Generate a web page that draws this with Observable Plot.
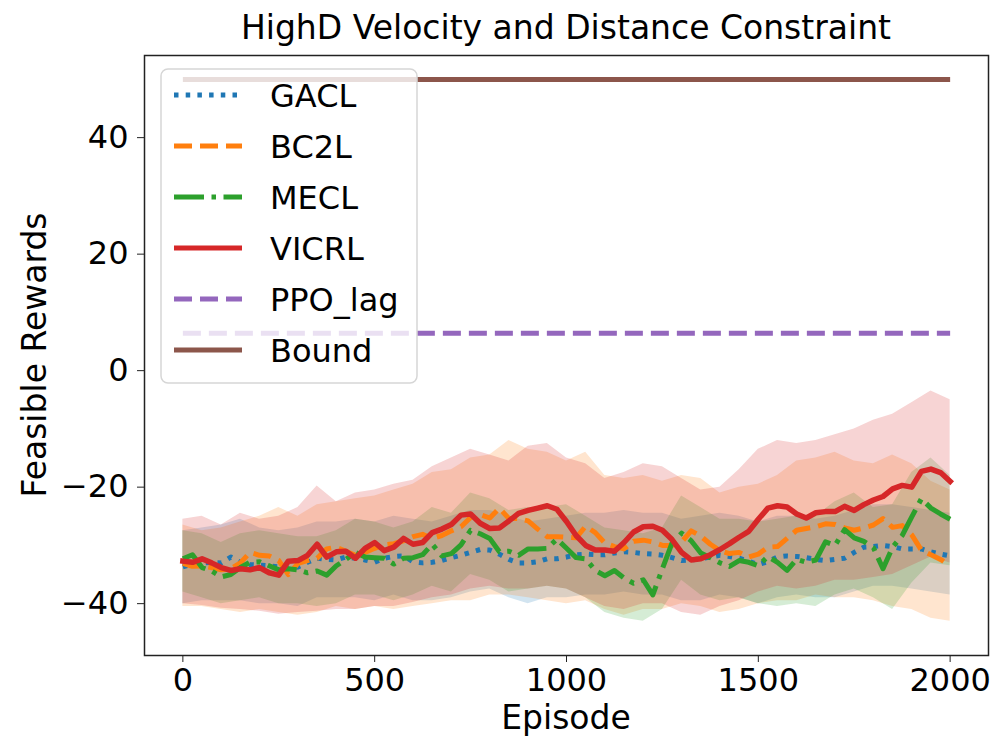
<!DOCTYPE html>
<html>
<head>
<meta charset="utf-8">
<script src="https://cdn.jsdelivr.net/npm/d3@7"></script>
<script src="https://cdn.jsdelivr.net/npm/@observablehq/plot@0.6"></script>
<style>
  html, body { margin: 0; padding: 0; background: #fff; }
  #chart { width: 994px; height: 740px; }
</style>
</head>
<body>
<div id="chart"></div>
<script>
// ---------- data ----------
const episodes = d3.range(0, 2001, 25);      // mean-curve sample episodes
const bandEpisodes = d3.range(0, 2001, 50);  // band sample episodes

const gaclMean = [-33.7,-33.2,-33.0,-32.9,-33.0,-32.0,-32.9,-33.3,-33.4,-33.5,-33.7,-33.9,-33.7,-32.9,-32.2,-32.4,-32.5,-32.0,-32.2,-32.5,-32.9,-32.2,-31.9,-31.8,-32.8,-33.0,-32.9,-32.6,-32.1,-31.7,-31.2,-30.7,-30.8,-31.5,-32.4,-33.0,-33.0,-32.8,-32.3,-32.3,-32.0,-31.6,-31.5,-31.6,-31.6,-31.3,-31.1,-31.2,-31.4,-31.5,-31.7,-32.1,-32.6,-32.5,-32.3,-32.0,-31.7,-31.9,-32.2,-32.7,-33.3,-32.8,-32.0,-31.8,-31.9,-32.1,-32.4,-32.6,-32.4,-32.2,-31.2,-30.3,-30.2,-30.0,-30.2,-30.6,-30.6,-30.6,-31.1,-31.5,-31.8];
const bc2lMean = [-33.1,-33.6,-33.5,-33.8,-34.2,-34.0,-33.0,-31.2,-31.7,-31.8,-32.6,-35.0,-33.1,-32.6,-32.2,-30.6,-30.3,-31.0,-31.7,-31.2,-30.5,-29.9,-29.7,-29.2,-28.5,-28.1,-28.8,-28.3,-27.5,-26.8,-25.2,-24.7,-25.3,-23.6,-25.4,-25.4,-25.8,-27.2,-28.5,-28.5,-28.6,-28.7,-26.7,-27.8,-29.6,-30.2,-30.6,-29.3,-29.1,-29.4,-30.0,-30.0,-29.4,-27.5,-28.4,-29.8,-30.9,-31.4,-31.2,-32.0,-31.5,-30.3,-30.2,-28.8,-27.4,-27.1,-26.8,-26.3,-26.4,-27.0,-27.4,-27.0,-26.5,-25.4,-26.9,-26.6,-28.2,-30.8,-31.6,-32.4,-33.5];
const meclMean = [-32.3,-31.6,-33.8,-34.4,-35.4,-35.0,-33.8,-32.9,-32.8,-33.5,-34.2,-34.0,-34.2,-34.7,-34.4,-35.1,-33.5,-32.4,-31.2,-32.0,-32.1,-32.2,-33.2,-32.2,-32.1,-31.6,-29.8,-31.8,-31.4,-29.9,-27.4,-28.0,-28.8,-31.1,-31.0,-31.7,-30.6,-30.6,-30.5,-28.9,-30.5,-32.1,-32.3,-34.3,-35.2,-34.3,-35.6,-36.5,-35.9,-38.5,-34.0,-29.6,-27.9,-29.2,-31.3,-32.1,-33.0,-33.6,-32.6,-32.9,-33.5,-31.9,-32.9,-34.3,-32.4,-32.9,-32.5,-29.4,-30.0,-27.3,-28.7,-29.3,-30.4,-34.0,-30.3,-28.3,-25.1,-22.0,-23.6,-24.6,-25.5];
const vicrlMean = [-32.7,-32.9,-32.3,-33.0,-33.8,-34.3,-34.0,-34.2,-33.8,-34.7,-35.1,-32.7,-32.6,-31.7,-29.8,-32.0,-31.1,-31.0,-32.2,-30.5,-29.5,-30.9,-30.3,-28.8,-29.8,-29.5,-27.8,-27.2,-26.4,-24.8,-24.6,-26.2,-27.1,-27.0,-25.8,-24.5,-24.0,-23.6,-23.2,-23.8,-25.9,-28.3,-30.0,-30.8,-30.8,-31.0,-29.5,-27.7,-26.8,-26.7,-27.4,-29.0,-31.2,-32.5,-32.3,-31.6,-30.7,-29.7,-28.6,-27.6,-25.5,-23.6,-23.2,-23.4,-24.6,-25.3,-24.4,-24.2,-24.2,-23.3,-24.0,-23.0,-22.2,-21.6,-20.3,-19.7,-20.0,-17.3,-16.9,-17.5,-19.0];

const gaclUpper = [-27.5,-27.0,-26.5,-25.5,-27.0,-27.5,-27.0,-26.0,-26.0,-25.5,-26.0,-25.0,-25.5,-26.0,-25.0,-24.0,-24.0,-25.0,-26.0,-25.5,-25.0,-24.5,-24.5,-24.0,-24.5,-24.5,-25.5,-25.0,-24.5,-25.0,-26.0,-25.0,-25.0,-25.5,-25.0,-24.0,-23.0,-23.0,-23.5,-24.0,-24.5];
const gaclLower = [-40.0,-39.5,-39.5,-39.5,-40.0,-40.0,-40.5,-39.0,-39.0,-39.0,-39.5,-38.5,-39.5,-39.5,-39.0,-38.0,-37.5,-39.0,-40.0,-39.0,-39.0,-38.5,-38.5,-38.0,-38.5,-38.5,-39.5,-39.5,-38.5,-39.0,-40.0,-39.0,-38.5,-39.0,-39.0,-38.0,-37.0,-37.0,-37.5,-38.0,-38.5];
const bc2lUpper = [-26.5,-27.5,-27.0,-26.0,-25.0,-23.5,-25.0,-23.0,-22.5,-22.0,-21.5,-20.5,-19.5,-17.5,-17.0,-15.0,-14.5,-12.0,-13.5,-14.0,-15.5,-14.0,-18.0,-18.5,-18.0,-19.0,-18.0,-18.5,-21.0,-20.0,-19.5,-18.0,-15.5,-15.0,-14.0,-15.5,-16.0,-14.5,-16.0,-19.0,-20.5];
const bc2lLower = [-40.5,-40.5,-41.0,-41.5,-41.0,-41.5,-42.0,-41.5,-40.5,-41.0,-40.5,-41.0,-40.5,-40.0,-39.5,-39.5,-38.5,-38.5,-39.0,-39.5,-40.0,-39.5,-41.0,-42.0,-41.0,-41.0,-40.0,-40.5,-41.5,-41.0,-40.0,-39.5,-39.5,-38.5,-39.0,-39.0,-39.5,-40.5,-41.0,-42.5,-43.0];
const meclUpper = [-27.5,-28.0,-29.5,-28.0,-27.5,-28.0,-28.5,-28.5,-27.5,-25.5,-26.0,-27.0,-26.0,-23.5,-24.5,-21.0,-22.0,-24.0,-23.5,-23.5,-23.0,-25.0,-27.0,-27.5,-28.0,-27.0,-21.5,-23.5,-25.5,-25.5,-26.0,-25.5,-25.0,-25.0,-22.5,-21.0,-23.5,-23.0,-17.5,-15.0,-18.0];
const meclLower = [-38.0,-39.0,-40.0,-39.5,-39.0,-40.0,-40.0,-40.5,-40.0,-38.5,-38.5,-39.5,-38.5,-37.0,-38.0,-35.0,-36.0,-38.0,-37.5,-37.0,-37.5,-39.0,-41.5,-42.5,-43.0,-41.0,-36.0,-38.5,-39.5,-39.0,-40.0,-40.5,-40.0,-40.5,-38.5,-37.5,-39.0,-41.0,-36.5,-33.0,-33.5];
const vicrlUpper = [-25.5,-25.0,-26.5,-24.5,-25.5,-25.0,-23.5,-19.8,-22.5,-21.0,-20.5,-19.5,-18.8,-16.5,-15.0,-13.5,-14.5,-15.5,-13.0,-12.5,-15.0,-16.0,-18.5,-17.5,-16.0,-16.5,-18.5,-20.5,-20.0,-17.0,-13.5,-12.0,-12.5,-12.0,-11.0,-10.0,-8.5,-7.5,-5.5,-3.5,-5.0];
const vicrlLower = [-40.0,-40.3,-40.8,-41.0,-41.3,-41.8,-41.5,-41.3,-41.0,-41.0,-40.5,-40.5,-39.8,-39.0,-38.5,-37.5,-37.0,-37.5,-37.5,-37.0,-37.5,-39.0,-40.5,-41.0,-40.0,-40.0,-41.5,-42.0,-40.5,-39.5,-38.0,-37.0,-37.5,-37.0,-36.0,-36.0,-35.5,-35.0,-33.5,-32.0,-33.0];

const constEpisodes = [0, 2000];
const ppoLagValue = 6.4;
const boundValue = 50;

const xTicks = [0, 500, 1000, 1500, 2000];
const yTicks = [-40, -20, 0, 20, 40];

const titleText = "HighD Velocity and Distance Constraint";
const xLabel = "Episode";
const yLabel = "Feasible Rewards";

const series = [
  {name: "GACL",  color: "#1f77b4", dash: "4.5,7.2",        mean: gaclMean,  upper: gaclUpper,  lower: gaclLower},
  {name: "BC2L",  color: "#ff7f0e", dash: "18,8",           mean: bc2lMean,  upper: bc2lUpper,  lower: bc2lLower},
  {name: "MECL",  color: "#2ca02c", dash: "30,7.5,4.5,7.5", mean: meclMean,  upper: meclUpper,  lower: meclLower},
  {name: "VICRL", color: "#d62728", dash: null,             mean: vicrlMean, upper: vicrlUpper, lower: vicrlLower}
];
const extra = [
  {name: "PPO_lag", color: "#9467bd", dash: "18,8", value: ppoLagValue},
  {name: "Bound",   color: "#8c564b", dash: null,   value: boundValue}
];

// ---------- build ----------
const W = 994, H = 740;
const mL = 144, mR = 6, mT = 55, mB = 85;
const FONT = "DejaVu Sans, Verdana, sans-serif";
const LW = 5;
const fmt = d => d < 0 ? "\u2212" + Math.abs(d) : String(d);

const marks = [];
for (const s of series) {
  const band = bandEpisodes.map((e, i) => ({episode: e, lo: s.lower[i], hi: s.upper[i]}));
  marks.push(Plot.areaY(band, {x: "episode", y1: "lo", y2: "hi", fill: s.color, fillOpacity: 0.2}));
}
for (const s of series) {
  const rows = episodes.map((e, i) => ({episode: e, value: s.mean[i]}));
  marks.push(Plot.line(rows, {
    x: "episode", y: "value", stroke: s.color, strokeWidth: s.dash ? LW : LW + 0.5,
    strokeDasharray: s.dash || undefined, strokeLinejoin: "round",
    strokeLinecap: s.dash ? "butt" : "square"
  }));
}
for (const s of extra) {
  const rows = constEpisodes.map(e => ({episode: e, value: s.value}));
  marks.push(Plot.line(rows, {
    x: "episode", y: "value", stroke: s.color, strokeWidth: LW,
    strokeDasharray: s.dash || undefined, strokeLinecap: "butt"
  }));
}
marks.push(Plot.frame({stroke: "#222", strokeWidth: 1.5}));
marks.push(Plot.axisX({ticks: xTicks, tickSize: 7, tickPadding: 6, label: null, fontSize: 32, stroke: "#222", tickFormat: fmt}));
marks.push(Plot.axisY({ticks: yTicks, tickSize: 7, tickPadding: 9, label: null, fontSize: 32, stroke: "#222", tickFormat: fmt}));

const chart = Plot.plot({
  width: W, height: H,
  marginLeft: mL, marginRight: mR, marginTop: mT, marginBottom: mB,
  x: {domain: [-100, 2100]},
  y: {domain: [-48.9, 54.1]},
  style: {fontFamily: FONT, fontSize: "32px", color: "#000", background: "#fff", overflow: "visible"},
  marks
});
document.getElementById("chart").appendChild(chart);

// ---------- texts and legend ----------
const svg = d3.select(chart);
const cx = mL + (W - mL - mR) / 2;
svg.append("text").attr("x", cx).attr("y", 39).attr("text-anchor", "middle")
  .attr("font-family", FONT).attr("font-size", 33).attr("fill", "#000").text(titleText);
svg.append("text").attr("x", cx).attr("y", 729).attr("text-anchor", "middle")
  .attr("font-family", FONT).attr("font-size", 33).attr("fill", "#000").text(xLabel);
svg.append("text").attr("transform", `translate(46,${mT + (H - mT - mB) / 2}) rotate(-90)`)
  .attr("text-anchor", "middle").attr("font-family", FONT).attr("font-size", 33).attr("fill", "#000").text(yLabel);

const lg = svg.append("g");
lg.append("rect").attr("x", 161).attr("y", 69).attr("width", 256).attr("height", 314)
  .attr("rx", 7).attr("fill", "#fff").attr("fill-opacity", 0.8).attr("stroke", "#d6d6d6").attr("stroke-width", 1.5);
const entries = [...series, ...extra];
entries.forEach((s, i) => {
  const y = 95 + i * 51;
  lg.append("line").attr("x1", 174).attr("x2", 242).attr("y1", y).attr("y2", y)
    .attr("stroke", s.color).attr("stroke-width", LW)
    .attr("stroke-dasharray", s.dash || null).attr("stroke-linecap", "butt");
  lg.append("text").attr("x", 270).attr("y", y).attr("dy", "0.36em").attr("text-anchor", "start")
    .attr("font-family", FONT).attr("font-size", 32).attr("fill", "#000").text(s.name);
});
</script>
</body>
</html>
